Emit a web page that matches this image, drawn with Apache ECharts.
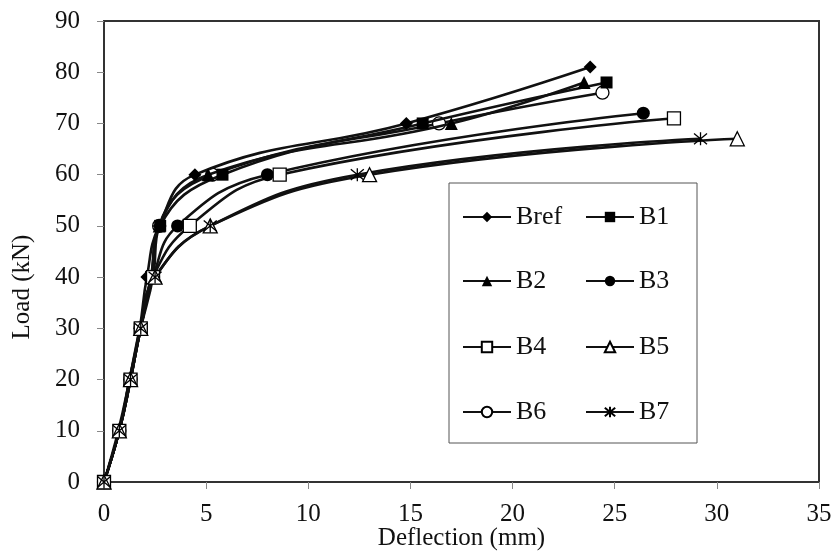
<!DOCTYPE html>
<html>
<head>
<meta charset="utf-8">
<script src="https://cdn.jsdelivr.net/npm/echarts@6/dist/echarts.min.js"></script>
<style>html,body{margin:0;padding:0;background:#fff}#c{width:834px;height:552px}</style>
</head>
<body>
<div id="c"></div>
<script>
const seriesNames = ['Bref','B1','B2','B3','B4','B5','B6','B7'];
const Bref = [[0,0],[0.7,10],[1.25,20],[1.75,30],[2.1,40],[2.7,50],[4.45,60],[14.8,70],[23.8,81]];
const B1   = [[0,0],[0.75,10],[1.25,20],[1.75,30],[2.3,40],[2.75,50],[5.8,60],[15.6,70],[24.6,78]];
const B2   = [[0,0],[0.75,10],[1.25,20],[1.8,30],[2.3,40],[2.7,50],[5.1,60],[17.0,70],[23.5,78]];
const B3   = [[0,0],[0.75,10],[1.3,20],[1.8,30],[2.4,40],[3.6,50],[8.0,60],[26.4,72]];
const B4   = [[0,0],[0.75,10],[1.3,20],[1.8,30],[2.4,40],[4.2,50],[8.6,60],[27.9,71]];
const B5   = [[0,0],[0.75,10],[1.3,20],[1.8,30],[2.5,40],[5.2,50],[13.0,60],[31.0,67]];
const B6   = [[0,0],[0.75,10],[1.3,20],[1.8,30],[2.4,40],[2.7,50],[5.3,60],[16.4,70],[24.4,76]];
const B7   = [[0,0],[0.75,10],[1.3,20],[1.8,30],[2.5,40],[5.2,50],[12.4,60],[29.2,67]];
const xTicks = {min:0, max:35, interval:5};
const yTicks = {min:0, max:90, interval:10};

const dataMap = {Bref,B1,B2,B3,B4,B5,B6,B7};
const star = 'path://M0,0L10,10M10,0L0,10M5,-1L5,11';
const markers = {
  Bref:{symbol:'diamond', size:13, fill:'#000'},
  B1:{symbol:'rect', size:12, fill:'#000'},
  B2:{symbol:'triangle', size:13, fill:'#000'},
  B3:{symbol:'circle', size:13, fill:'#000'},
  B4:{symbol:'rect', size:13, fill:'#fff'},
  B5:{symbol:'triangle', size:14, fill:'#fff'},
  B6:{symbol:'circle', size:13, fill:'#fff'},
  B7:{symbol:star, size:13, fill:'none'}
};
const FONT = '"Liberation Serif", "Times New Roman", serif';

const series = seriesNames.map(n => ({
  name: n,
  type: 'line',
  z: n === 'B6' ? 1.5 : 2,
  data: dataMap[n],
  smooth: 0.45,
  symbol: markers[n].symbol,
  symbolSize: markers[n].size,
  showAllSymbol: true,
  lineStyle: {color:'#111', width:2.6},
  itemStyle: {color: markers[n].fill, borderColor:'#000', borderWidth: markers[n].fill === '#000' ? 0 : 1.3},
  emphasis: {disabled:true}
}));

const legendPos = [[457,199],[580,199],[457,263],[580,263],[457,329],[580,329],[457,394],[580,394]];
const legends = seriesNames.map((n,i) => ({
  data:[n], left: legendPos[i][0], top: legendPos[i][1],
  itemWidth: 48, itemHeight: 13, itemGap: 0,
  textStyle: {fontFamily: FONT, fontSize: 26, color:'#111'},
  selectedMode: false
}));

const chart = echarts.init(document.getElementById('c'));
chart.setOption({
  animation: false,
  backgroundColor: '#fff',
  grid: {left:104, right:15, top:21, bottom:70, containLabel:false, outerBoundsMode:'none',
         show:true, borderColor:'#333', borderWidth:2, backgroundColor:'transparent'},
  xAxis: {
    type:'value', min:xTicks.min, max:xTicks.max, interval:xTicks.interval,
    name:'Deflection (mm)', nameLocation:'middle', nameGap:44, nameMoveOverlap:false,
    nameTextStyle:{fontFamily:FONT, fontSize:25, color:'#111'},
    axisLine:{show:true, lineStyle:{color:'#333', width:2}},
    axisTick:{show:true, length:7, lineStyle:{color:'#888', width:1}},
    axisLabel:{fontFamily:FONT, fontSize:25, color:'#111', margin:20},
    splitLine:{show:false}
  },
  yAxis: {
    type:'value', min:yTicks.min, max:yTicks.max, interval:yTicks.interval,
    axisLine:{show:true, lineStyle:{color:'#333', width:2}},
    axisTick:{show:true, length:7, lineStyle:{color:'#888', width:1}},
    axisLabel:{fontFamily:FONT, fontSize:25, color:'#111', margin:24},
    splitLine:{show:false}
  },
  legend: legends,
  graphic: [
    {type:'rect', shape:{x:449, y:183, width:248, height:260}, style:{fill:'#fff', stroke:'#555', lineWidth:1}, z:1},
    {type:'text', x:22, y:287, rotation:Math.PI/2, style:{text:'Load (kN)', font:'25px ' + FONT, fill:'#111', align:'center', verticalAlign:'middle'}}
  ],
  series: series
});
</script>
</body>
</html>
